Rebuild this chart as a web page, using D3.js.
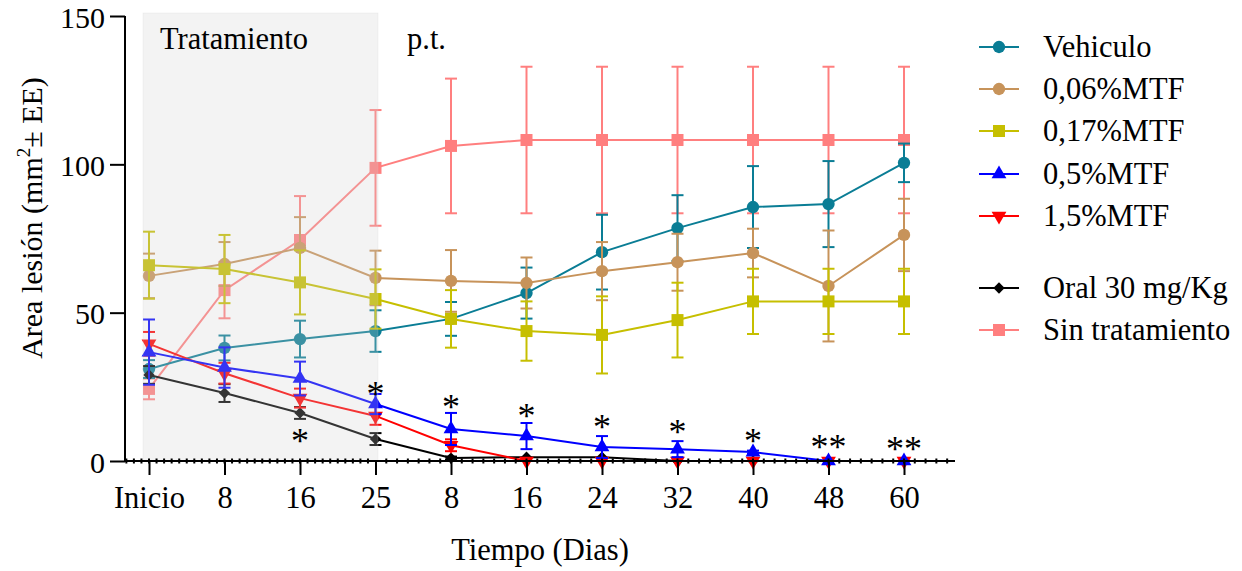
<!DOCTYPE html>
<html>
<head>
<meta charset="utf-8">
<script src="https://cdn.jsdelivr.net/npm/d3@7"></script>
<style>
  html, body { margin: 0; padding: 0; background: #fff; }
  svg { display: block; }
</style>
</head>
<body>
<svg id="chart" width="1242" height="571"></svg>
<script>
// ---- data ----
const categories = ["Inicio", "8", "16", "25", "8", "16", "24", "32", "40", "48", "60"];
const yTicks = [0, 50, 100, 150];

const vehiculo    = [31, 38.1, 41.1, 43.8, 47.9, 56.6, 70.4, 78.5, 85.6, 86.6, 100.5];
const vehiculoErr = [3, 4.2, 6.2, 7, 5.7, 8.6, 12.6, 11.1, 13.8, 14.5, 6.5];

const mtf006    = [62.4, 66.4, 71.8, 61.7, 60.7, 60, 64, 67, 70.1, 59, 76.2];
const mtf006Err = [7.5, 7.4, 10.4, 9.2, 10.4, 8.6, 9.8, 9.6, 8.2, 18.7, 12.2];

const mtf017    = [66, 64.7, 60.2, 54.6, 47.9, 43.8, 42.5, 47.5, 53.8, 53.8, 53.8];
const mtf017Err = [11.3, 11.5, 10.8, 10, 9.7, 10, 13, 12.6, 11, 11, 11];

const mtf05    = [36.7, 31.5, 27.8, 19.2, 10.8, 8.4, 4.7, 4, 3, 0, 0];
const mtf05Err = [11, 6.8, 5.7, 3.4, 5.4, 4.4, 3.7, 2.7, 0.5, 0, 0];

const mtf15    = [39.5, 29.6, 21.2, 15.2, 5.3, 0, 0, 0, 0, 0, 0];
const mtf15Err = [4, 3.5, 3.2, 3, 2, 0, 0, 0, 0, 0, 0];

const oral    = [29, 22.9, 16.2, 7.4, 1, 1.3, 1.3, 0, 0, 0, 0];
const oralErr = [3, 3, 2, 2, 0.5, 0, 0, 0, 0, 0, 0];

const sinTrat    = [24.3, 57.6, 74.5, 98.8, 106.2, 108.2, 108.2, 108.2, 108.2, 108.2, 108.2];
const sinTratErr = [3.5, 9.5, 14.8, 19.5, 22.7, 24.7, 24.7, 24.7, 24.7, 24.7, 24.7];

const seriesNames = ["Vehiculo", "0,06%MTF", "0,17%MTF", "0,5%MTF", "1,5%MTF", "Oral 30 mg/Kg", "Sin tratamiento"];

// significance marks
const starIdx  = [2, 3, 4, 5, 6, 7, 8, 9, 10];
const starText = ["*", "*", "*", "*", "*", "*", "*", "**", "**"];
const starY    = [8.4, 24.3, 19.9, 16.9, 13.1, 11.5, 8.4, 6.4, 5.7];

// ---- series table ----
const series = [
  { name: seriesNames[6], values: sinTrat,  err: sinTratErr,  color: "#ff7f7f", shape: "square" },
  { name: seriesNames[0], values: vehiculo, err: vehiculoErr, color: "#0a7d95", shape: "circle" },
  { name: seriesNames[1], values: mtf006,   err: mtf006Err,   color: "#c7935a", shape: "circle" },
  { name: seriesNames[2], values: mtf017,   err: mtf017Err,   color: "#c6bf00", shape: "square" },
  { name: seriesNames[5], values: oral,     err: oralErr,     color: "#000000", shape: "diamond" },
  { name: seriesNames[4], values: mtf15,    err: mtf15Err,    color: "#ff0000", shape: "down" },
  { name: seriesNames[3], values: mtf05,    err: mtf05Err,    color: "#0000ff", shape: "up" }
];
const legendOrder = [
  { name: seriesNames[0], color: "#0a7d95", shape: "circle" },
  { name: seriesNames[1], color: "#c7935a", shape: "circle" },
  { name: seriesNames[2], color: "#c6bf00", shape: "square" },
  { name: seriesNames[3], color: "#0000ff", shape: "up" },
  { name: seriesNames[4], color: "#ff0000", shape: "down" },
  null,
  { name: seriesNames[5], color: "#000000", shape: "diamond" },
  { name: seriesNames[6], color: "#ff7f7f", shape: "square" }
];

// ---- layout ----
const FONT = "'Liberation Serif'";
const FS = 30.5;
const svg = d3.select("#chart");
const x = d3.scalePoint().domain(d3.range(categories.length)).range([149, 904]);
const y = d3.scaleLinear().domain([0, 150]).range([461, 16]);
const xAxisLeft = 125, xAxisRight = 955;

function serif(sel, size) {
  return sel.style("font-family", FONT).attr("font-size", size).attr("fill", "#000");
}

function symbolPath(shape) {
  switch (shape) {
    case "circle": return d3.symbol().type(d3.symbolCircle).size(120)();
    case "square": return d3.symbol().type(d3.symbolSquare).size(144)();
    case "diamond": return d3.symbol().type(d3.symbolSquare).size(64)();
    case "up": return d3.symbol().type(d3.symbolTriangle).size(95)();
    case "down": return d3.symbol().type(d3.symbolTriangle).size(95)();
  }
}
function symbolRot(shape) {
  if (shape === "diamond") return 45;
  if (shape === "down") return 180;
  return 0;
}

const plot = svg.append("g");
const capW = 6;

series.forEach(s => {
  const g = plot.append("g");
  const pts = s.values.map((v, i) => ({ i, v, e: s.err[i] }));
  pts.filter(p => p.e > 0).forEach(p => {
    const cx = x(p.i);
    g.append("line").attr("x1", cx).attr("x2", cx)
      .attr("y1", y(p.v + p.e)).attr("y2", y(p.v - p.e))
      .attr("stroke", s.color).attr("stroke-width", 2);
    [p.v + p.e, p.v - p.e].forEach(val => {
      g.append("line").attr("x1", cx - capW).attr("x2", cx + capW)
        .attr("y1", y(val)).attr("y2", y(val))
        .attr("stroke", s.color).attr("stroke-width", 2);
    });
  });
  g.append("path").datum(pts)
    .attr("d", d3.line().x(p => x(p.i)).y(p => y(p.v)))
    .attr("fill", "none").attr("stroke", s.color).attr("stroke-width", 2);
  g.selectAll("path.mk").data(pts).join("path").attr("class", "mk")
    .attr("d", symbolPath(s.shape))
    .attr("transform", p => `translate(${x(p.i)},${y(p.v)}) rotate(${symbolRot(s.shape)})`)
    .attr("fill", s.color);
});

// treatment shading (semi-transparent overlay)
svg.append("rect")
  .attr("x", 143).attr("y", 13).attr("width", 235).attr("height", y(0) - 13)
  .attr("fill", "rgb(206,206,206)").attr("fill-opacity", 0.25)
  .attr("stroke", "rgb(200,200,200)").attr("stroke-opacity", 0.2);

serif(svg.append("text").attr("x", 160).attr("y", 49), FS).text("Tratamiento");
serif(svg.append("text").attr("x", 407).attr("y", 49), FS).text("p.t.");

// asterisks
starIdx.forEach((ix, k) => {
  serif(svg.append("text").attr("x", x(ix)).attr("y", y(starY[k]) + 17)
    .attr("text-anchor", "middle"), 36).text(starText[k]);
});

// ---- axes ----
const yAxis = d3.axisLeft(y).tickValues(yTicks).tickSize(15).tickPadding(5);
const yg = svg.append("g").attr("transform", `translate(${xAxisLeft},0)`).call(yAxis);
yg.attr("font-family", null).attr("font-size", null);
yg.select(".domain").attr("d", `M0,${y(150)}V${y(0)}`).attr("stroke-width", 2);
yg.selectAll(".tick line").attr("stroke-width", 2);
serif(yg.selectAll(".tick text"), 30).attr("dy", "11px");

// minor ticks on x axis
const minor = [];
const step1 = (x(1) - x(0)) / 10;
for (let px = x(3) - step1; px > xAxisLeft + 1; px -= step1) minor.push(px);
const step2 = (x(4) - x(3)) / 7;
for (let px = x(3) + step2; px < xAxisRight - 2; px += step2) minor.push(px);
svg.append("g").selectAll("line").data(minor).join("line")
  .attr("x1", d => d).attr("x2", d => d)
  .attr("y1", y(0) - 2.5).attr("y2", y(0) + 2.5)
  .attr("stroke", "#000").attr("stroke-width", 2);

const xAxis = d3.axisBottom(x).tickSize(14).tickPadding(11).tickFormat(i => categories[i]);
const xg = svg.append("g").attr("transform", `translate(0,${y(0)})`).call(xAxis);
xg.attr("font-family", null).attr("font-size", null);
xg.select(".domain").attr("d", `M${xAxisLeft},0H${xAxisRight}`).attr("stroke-width", 2);
xg.selectAll(".tick line").attr("stroke-width", 2);
serif(xg.selectAll(".tick text"), FS);

// axis titles
serif(svg.append("text").attr("x", 540).attr("y", 560).attr("text-anchor", "middle"), FS)
  .text("Tiempo (Dias)");

const yl = serif(svg.append("text").attr("transform", "translate(42,218) rotate(-90)")
  .attr("text-anchor", "middle"), 30);
yl.append("tspan").text("Area lesión (mm");
yl.append("tspan").attr("font-size", 19).attr("dy", -12).text("2");
yl.append("tspan").attr("dy", 12).text("± EE)");

// ---- legend ----
const legendY = [47, 89, 131, 174, 216, null, 288, 330];
const lg = svg.append("g");
legendOrder.forEach((item, k) => {
  if (!item) return;
  const ly = legendY[k];
  lg.append("line").attr("x1", 979).attr("x2", 1019).attr("y1", ly).attr("y2", ly)
    .attr("stroke", item.color).attr("stroke-width", 2);
  lg.append("path").attr("d", symbolPath(item.shape))
    .attr("transform", `translate(999,${ly}) rotate(${symbolRot(item.shape)})`)
    .attr("fill", item.color);
  serif(lg.append("text").attr("x", 1043).attr("y", ly + 10), FS).text(item.name);
});
</script>
</body>
</html>
